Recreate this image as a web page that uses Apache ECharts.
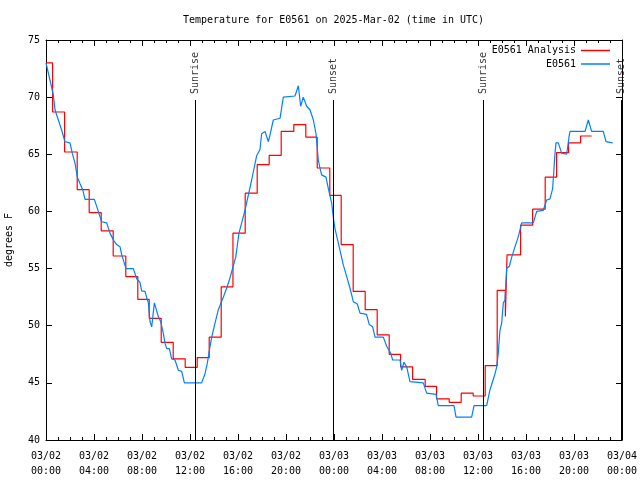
<!DOCTYPE html>
<html>
<head>
<meta charset="utf-8">
<script src="https://cdn.jsdelivr.net/npm/echarts@6/dist/echarts.min.js"></script>
<style>html,body{margin:0;padding:0;background:#fff}#c{width:640px;height:480px}</style>
</head>
<body>
<div id="c"></div>
<script>
const titleText = 'Temperature for E0561 on 2025-Mar-02 (time in UTC)';
const xLabels = ['03/02\n00:00','03/02\n04:00','03/02\n08:00','03/02\n12:00','03/02\n16:00','03/02\n20:00',
  '03/03\n00:00','03/03\n04:00','03/03\n08:00','03/03\n12:00','03/03\n16:00','03/03\n20:00','03/04\n00:00'];
const seriesNames = ['E0561 Analysis', 'E0561'];

// Analysis (hours since 03/02 00:00 UTC where a new value starts, and that value)
const analysisHours = [0, 0.55, 1.55, 2.6, 3.6, 4.6, 5.6, 6.65, 7.65, 8.6, 9.6, 10.6, 11.6, 12.6, 13.6, 14.6,
  15.58, 16.6, 17.6, 18.6, 19.6, 20.65, 21.65, 22.6, 23.65, 24.6, 25.6, 26.6, 27.6, 28.6, 29.55, 30.55,
  31.6, 32.55, 33.6, 34.6, 35.6, 36.6, 37.6, 38.28, 38.42, 39.55, 40.55, 41.6, 42.55, 43.55, 44.55, 45.47];
const analysisTemp = [73.0, 68.7, 65.2, 61.9, 59.9, 58.3, 56.1, 54.3, 52.3, 50.65, 48.55, 47.1, 46.35, 47.2, 49.0, 53.4,
  58.1, 61.6, 64.1, 64.9, 67.0, 67.6, 66.5, 63.8, 61.4, 57.1, 53.0, 51.4, 49.2, 47.5, 46.4, 45.3,
  44.7, 43.6, 43.3, 44.1, 43.85, 46.5, 53.1, 50.8, 56.2, 58.8, 60.2, 63.0, 65.15, 66.0, 66.6, 66.6];

// Observations
const obsHours = [0, 0.33, 0.61, 0.75, 1.03, 1.31, 1.58, 2.0, 2.19, 2.42, 2.61, 2.83, 3.06, 3.25, 4.03, 4.36, 4.64,
  5.06, 5.33, 5.67, 5.89, 6.17, 6.31, 6.67, 7.28, 7.56, 7.83, 7.97, 8.25, 8.39, 8.53, 8.67, 8.81, 9.03,
  9.17, 9.36, 9.56, 9.78, 9.92, 10.06, 10.28, 10.47, 10.75, 11.03, 11.31, 11.53, 12.97, 13.25, 13.44,
  13.67, 13.81, 14.08, 14.36, 14.58, 14.78, 15.06, 15.28, 15.81, 16.08, 16.58, 17.14, 17.56, 17.83,
  17.97, 18.25, 18.53, 18.67, 18.94, 19.5, 19.78, 20.75, 21.03, 21.22, 21.44, 21.72, 22.0, 22.28, 22.5,
  22.69, 22.83, 22.97, 23.33, 23.53, 23.81, 23.94, 24.08, 24.28, 24.5, 24.78, 25.06, 25.33, 25.61,
  25.94, 26.17, 26.71, 26.94, 27.22, 27.42, 28.11, 28.39, 28.72, 28.89, 29.5, 29.64, 29.83, 30.06,
  30.33, 31.44, 31.72, 32.5, 32.69, 34.0, 34.17, 35.47, 35.67, 36.72, 37.0, 37.42, 37.56, 37.69, 37.83,
  37.97, 38.11, 38.25, 38.39, 38.61, 38.81, 39.08, 39.36, 39.64, 40.61, 40.89, 41.44, 41.72, 42.0,
  42.22, 42.42, 42.5, 42.69, 42.97, 43.39, 43.61, 43.67, 44.92, 45.19, 45.47, 46.44, 46.67, 47.22];
const obsTemp = [73.0, 71.5, 70.2, 68.9, 68.0, 67.1, 66.1, 66.0, 65.1, 64.2, 63.0, 62.45, 61.9, 61.05, 61.05, 60.0, 59.1,
  59.0, 58.1, 57.4, 57.1, 56.9, 56.2, 55.0, 55.0, 54.1, 53.8, 53.05, 53.0, 52.45, 52.0, 50.35, 49.9, 52.0,
  51.5, 50.8, 50.35, 49.3, 48.45, 48.0, 48.0, 47.1, 47.0, 46.1, 46.0, 45.0, 45.0, 45.8, 46.7,
  48.2, 49.0, 50.2, 51.4, 52.0, 52.5, 53.3, 54.0, 56.0, 58.1, 60.1, 62.75, 64.9, 65.4,
  66.8, 67.0, 66.1, 66.7, 68.0, 68.15, 70.0, 70.1, 71.0, 69.2, 70.0, 69.2, 68.9, 68.0, 66.8,
  64.5, 63.8, 63.2, 63.0, 62.0, 60.7, 59.5, 58.5, 57.6, 56.6, 55.3, 54.3, 53.3, 52.1,
  51.9, 51.1, 51.0, 50.1, 49.9, 49.0, 49.0, 48.2, 47.6, 47.0, 47.0, 46.1, 46.8, 46.4,
  45.1, 45.0, 44.1, 44.0, 43.0, 43.0, 42.0, 42.0, 43.0, 43.0, 44.4, 45.8, 46.4, 47.6, 49.6,
  50.2, 52.0, 52.25, 55.0, 55.2, 56.0, 56.9, 57.8, 59.0, 59.0, 60.0, 60.1, 61.0, 61.1,
  62.0, 65.1, 66.0, 66.0, 65.1, 65.0, 66.7, 67.0, 67.0, 68.0, 67.0, 67.0, 66.1, 66.0];

const eventNames = ['Sunrise', 'Sunset', 'Sunrise', 'Sunset'];
const eventHours = [12.42, 23.92, 36.42, 47.92];
const eventTop = 69.75;

const FONT = 'DejaVu Sans Mono';
const chart = echarts.init(document.getElementById('c'), null, {renderer: 'canvas'});

const zip = (a, b) => a.map((v, i) => [v, b[i]]);
const tickCommon = {inside: true, length: 6, lineStyle: {color: '#000'}};
const minorCommon = {show: true, splitNumber: 4, length: 3, lineStyle: {color: '#000'}};
const legendCommon = {right: 30, align: 'right', orient: 'vertical', padding: 0, itemWidth: 29, itemHeight: 1.5,
  icon: 'rect', textStyle: {fontFamily: FONT, fontSize: 10, color: '#000'}};

chart.setOption({
  animation: false,
  backgroundColor: '#fff',
  title: {text: titleText, left: 183, top: 15, padding: 0,
    textStyle: {fontFamily: FONT, fontSize: 10, fontWeight: 'normal', color: '#000'}},
  legend: [
    Object.assign({data: [seriesNames[0]], top: 45.5}, legendCommon),
    Object.assign({data: [seriesNames[1]], top: 59}, legendCommon)
  ],
  grid: {left: 46, right: 18, top: 40, bottom: 40, containLabel: false, outerBoundsMode: 'none'},
  xAxis: [
    {type: 'value', min: 0, max: 48, interval: 4, position: 'bottom',
      axisLine: {show: true, onZero: false, lineStyle: {color: '#000', width: 1}},
      axisTick: tickCommon, minorTick: minorCommon, splitLine: {show: false},
      axisLabel: {fontFamily: FONT, fontSize: 10, color: '#000', lineHeight: 15, margin: 9,
        formatter: v => xLabels[Math.round(v / 4)]}},
    {type: 'value', min: 0, max: 48, interval: 4, position: 'top',
      axisLine: {show: true, onZero: false, lineStyle: {color: '#000', width: 1}},
      axisTick: tickCommon, minorTick: minorCommon, splitLine: {show: false}, axisLabel: {show: false}}
  ],
  yAxis: [
    {type: 'value', min: 40, max: 75, interval: 5, position: 'left',
      name: 'degrees F', nameLocation: 'middle', nameGap: 32, nameRotate: 90,
      nameTextStyle: {fontFamily: FONT, fontSize: 10, color: '#000'},
      axisLine: {show: true, onZero: false, lineStyle: {color: '#000', width: 1}},
      axisTick: tickCommon, splitLine: {show: false},
      axisLabel: {fontFamily: FONT, fontSize: 10, color: '#000', margin: 6}},
    {type: 'value', min: 40, max: 75, interval: 5, position: 'right',
      axisLine: {show: true, onZero: false, lineStyle: {color: '#000', width: 1}},
      axisTick: tickCommon, splitLine: {show: false}, axisLabel: {show: false}}
  ],
  series: [
    {name: seriesNames[0], type: 'line', step: 'end', showSymbol: false, symbol: 'none',
      color: '#ff0000', lineStyle: {color: '#ff0000', width: 1.2},
      data: zip(analysisHours, analysisTemp), z: 3},
    {name: seriesNames[1], type: 'line', showSymbol: false, symbol: 'none',
      color: '#0080ff', lineStyle: {color: '#0080ff', width: 1.2},
      data: zip(obsHours, obsTemp), z: 4},
    {name: 'events', type: 'scatter', symbolSize: 0, z: 5, silent: true,
      data: eventHours.map((h, i) => ({value: [h, eventTop], name: eventNames[i]})),
      label: {show: true, position: 'top', distance: 6, rotate: 90, align: 'left', verticalAlign: 'middle',
        formatter: p => p.name, fontFamily: FONT, fontSize: 10, color: '#000'},
      markLine: {silent: true, symbol: 'none', label: {show: false},
        lineStyle: {color: '#000', width: 1, type: 'solid'},
        data: eventHours.map(h => [{coord: [h, 40]}, {coord: [h, eventTop]}])}}
  ]
});
</script>
</body>
</html>
